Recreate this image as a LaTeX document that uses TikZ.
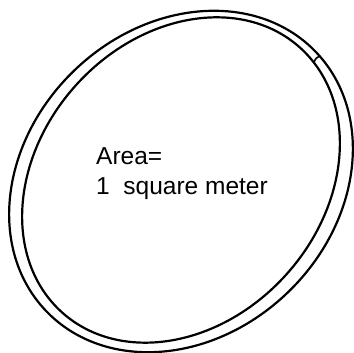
\documentclass[tikz,border=0pt]{standalone}
\usepackage{fontspec}
\setmainfont{Liberation Sans}
\usetikzlibrary{positioning}
\tikzset{
  ring/.style={draw=black,line width=2.2pt},
  lbl/.style={anchor=base west,inner sep=0pt,font=\fontsize{24.5}{30}\selectfont}
}

\begin{document}
\begin{tikzpicture}[x=1pt,y=1pt]
    \useasboundingbox (0,0) rectangle (354,353);
    % the loop of string, two close lines
    \draw[ring,rotate around={44:(181,171.5)}] (181,171.5) ellipse (187 and 154);
    \draw[ring,rotate around={48:(181,173)}] (181,173) ellipse (178 and 141.5);
    % the join
    \draw[ring,line width=1.6pt] (314,291) .. controls (316,295) .. (320,297);
    \node[lbl] (area) at (96,188) {Area=};
    \node[lbl] (meter) at (96,158) {1\ \ square meter};
  \end{tikzpicture}
\end{document}
